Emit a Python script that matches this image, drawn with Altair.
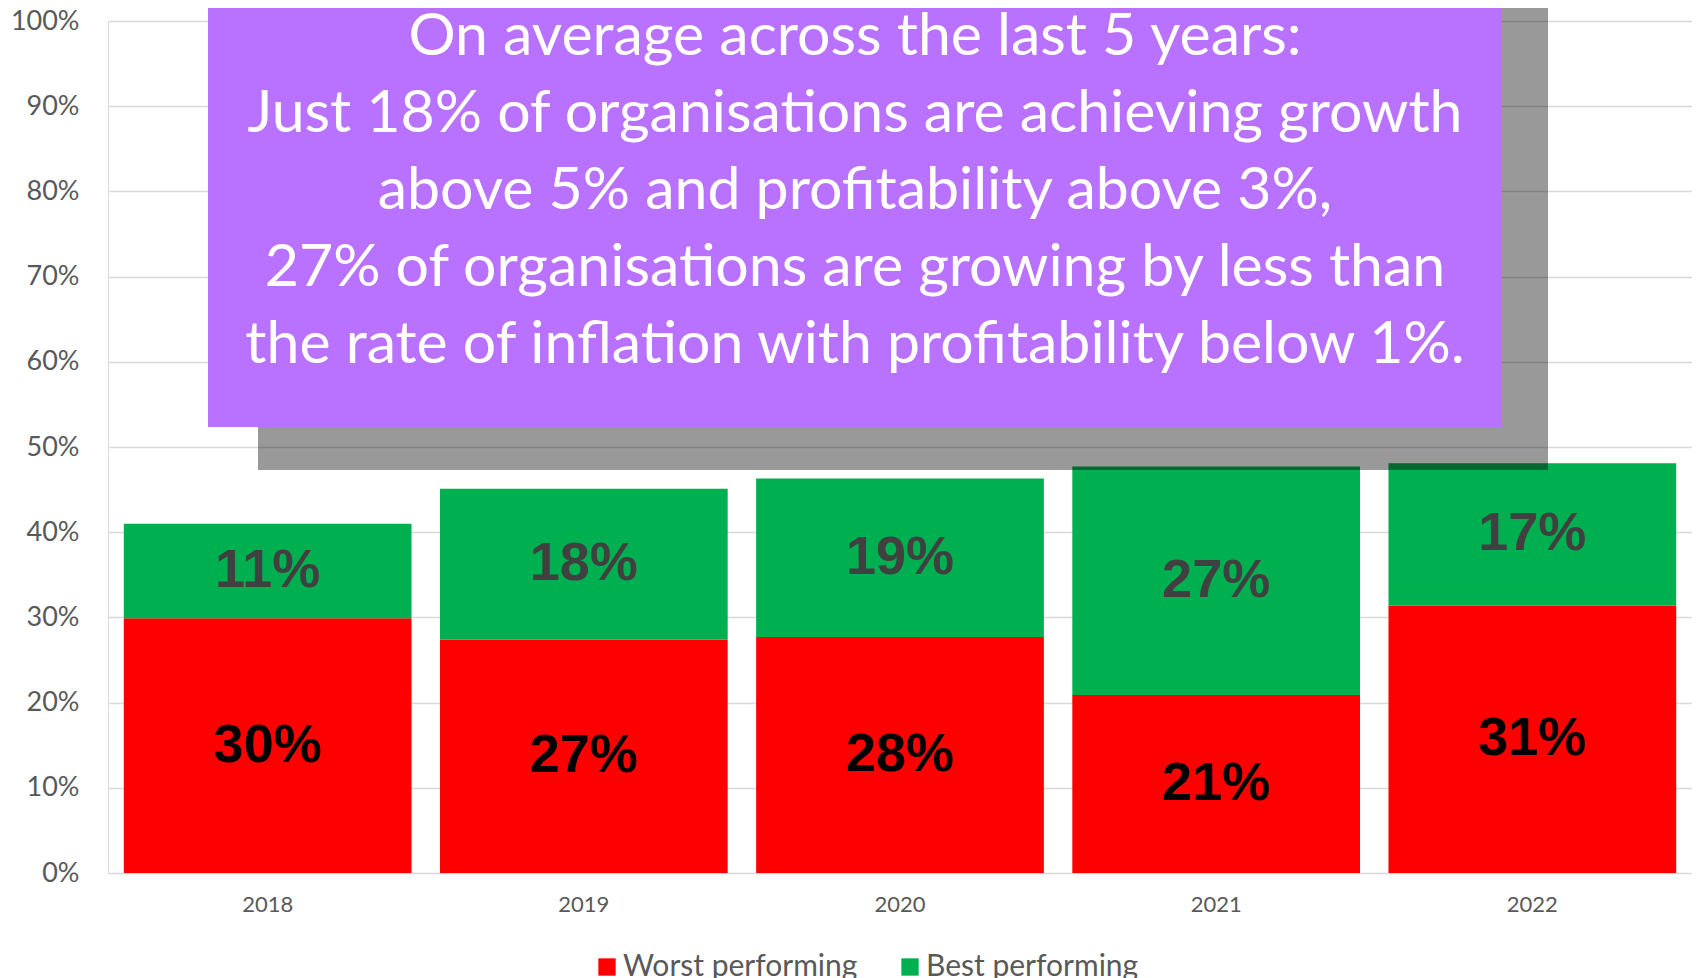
import altair as alt
import pandas as pd

years = ["2018", "2019", "2020", "2021", "2022"]
worst = [0.299, 0.274, 0.277, 0.209, 0.314]
best = [0.111, 0.177, 0.186, 0.268, 0.167]
series_names = ["Worst performing", "Best performing"]
series_colors = ["#FF0000", "#00B050"]
label_colors = ["#000000", "#404040"]
y_ticks = [0, 0.1, 0.2, 0.3, 0.4, 0.5, 0.6, 0.7, 0.8, 0.9, 1.0]
note_lines = [
    "On average across the last 5 years:",
    "Just 18% of organisations are achieving growth",
    "above 5% and profitability above 3%,",
    "27% of organisations are growing by less than",
    "the rate of inflation with profitability below 1%.",
]

rows = []
for yr, w, b in zip(years, worst, best):
    rows.append({"year": yr, "series": series_names[0], "start": 0.0, "end": w, "value": w, "mid": w / 2})
    rows.append({"year": yr, "series": series_names[1], "start": w, "end": w + b, "value": b, "mid": w + b / 2})
df = pd.DataFrame(rows)

FONT = "Lato"

x_enc = alt.X(
    "year:N",
    sort=years,
    title=None,
    scale=alt.Scale(paddingInner=0.09, paddingOuter=0.05),
    axis=alt.Axis(labelAngle=0, domain=False, ticks=False, labelPadding=21,
                  labelFontSize=22, labelColor="#595959", labelFont=FONT),
)

bars = alt.Chart(df).mark_bar(strokeWidth=0).encode(
    x=x_enc,
    y=alt.Y(
        "start:Q",
        title=None,
        scale=alt.Scale(domain=[0, 1], nice=False),
        axis=alt.Axis(values=y_ticks, format=".0%", domain=False, ticks=False,
                      labelPadding=29, labelFontSize=27, labelColor="#595959",
                      labelFont=FONT, gridColor="#D9D9D9", gridWidth=1.3),
    ),
    y2="end:Q",
    color=alt.Color(
        "series:N",
        scale=alt.Scale(domain=series_names, range=series_colors),
        legend=alt.Legend(
            title=None, orient="none", legendX=484, legendY=931, direction="horizontal",
            symbolType="square", symbolSize=300, symbolStrokeWidth=0,
            labelFontSize=30, labelColor="#595959", labelFont=FONT, labelLimit=0,
            labelOffset=1, columnPadding=37,
        ),
    ),
)

labels = alt.Chart(df).mark_text(
    font="Liberation Sans", fontWeight="bold", fontSize=54, baseline="middle", align="center"
).encode(
    x=alt.X("year:N", sort=years),
    y=alt.Y("mid:Q"),
    text=alt.Text("value:Q", format=".0%"),
    color=alt.condition(
        alt.datum.series == series_names[0], alt.value(label_colors[0]), alt.value(label_colors[1])
    ),
)

one = alt.Data(values=[{"k": 1}])

shadow = alt.Chart(one).mark_rect(color="#000000", opacity=0.4).encode(
    x=alt.value(150), x2=alt.value(1440), y=alt.value(-21), y2=alt.value(449)
)

box = alt.Chart(one).mark_rect(color="#B972FF", opacity=1).encode(
    x=alt.value(100), x2=alt.value(1394), y=alt.value(-21), y2=alt.value(406)
)

note = alt.Chart(one).mark_text(
    text=note_lines, font=FONT, fontSize=59, lineHeight=77, color="#FFFFFF",
    align="center", baseline="middle",
).encode(x=alt.value(747), y=alt.value(16))

chart = alt.layer(bars, labels, shadow, box, note).properties(
    width=1584,
    height=852,
    autosize=alt.AutoSizeParams(type="none"),
    padding={"left": 100, "top": 13, "right": 0, "bottom": 105},
).configure_view(stroke=None).configure(background="#FFFFFF")

chart.save("out.html", embed_options={"renderer": "svg", "actions": False})
